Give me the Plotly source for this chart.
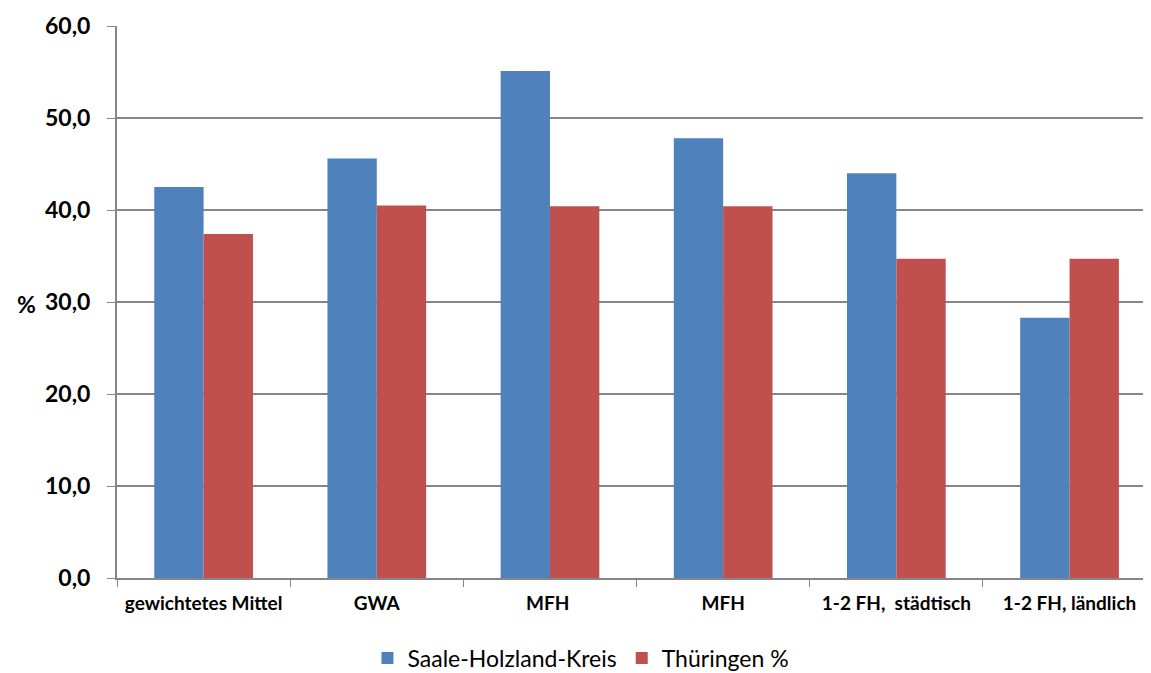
import plotly.graph_objects as go

categories = ["gewichtetes Mittel", "GWA", "MFH ", "MFH", "1-2 FH,  städtisch", "1-2 FH, ländlich"]
saale = [42.5, 45.6, 55.1, 47.8, 44.0, 28.3]
thueringen = [37.4, 40.5, 40.4, 40.4, 34.7, 34.7]
y_ticks = [0, 10, 20, 30, 40, 50, 60]

FONT = "Lato, 'Open Sans', sans-serif"

fig = go.Figure()
fig.add_trace(go.Bar(x=categories, y=saale, name="Saale-Holzland-Kreis",
                     marker=dict(color="#4F81BD", line=dict(width=0))))
fig.add_trace(go.Bar(x=categories, y=thueringen, name="Thüringen %",
                     marker=dict(color="#C0504D", line=dict(width=0))))

# page body has an 8px margin; figure is sized to fit the 1151x673 window
fig.update_layout(
    width=1143, height=665,
    margin=dict(l=109, r=3, t=18, b=95, autoexpand=False),
    paper_bgcolor="white", plot_bgcolor="white",
    barmode="group", bargap=0.43, bargroupgap=0,
    separators=",.",
    font=dict(family=FONT, color="black"),
    showlegend=True,
    legend=dict(orientation="h", x=0.45, xanchor="center", y=-0.145, yanchor="middle",
                font=dict(size=23, family=FONT),
                itemwidth=30, traceorder="normal", tracegroupgap=0),
    xaxis=dict(type="category", range=[-0.5, 5.453],
               showline=True, linecolor="#868686", linewidth=2,
               ticks="outside", tickson="boundaries", ticklen=7, tickcolor="#868686",
               automargin=False, ticklabelstandoff=7,
               tickfont=dict(size=19, family=FONT, weight="bold")),
    yaxis=dict(range=[0, 60], tickvals=y_ticks, tickformat=".1f",
               showgrid=True, gridcolor="#868686", gridwidth=2,
               showline=True, linecolor="#868686", linewidth=2,
               ticks="outside", ticklen=8, tickcolor="#868686",
               automargin=False, ticklabelstandoff=12,
               tickfont=dict(size=23, family=FONT, weight="bold"),
               zeroline=False),
)
fig.add_annotation(text="%", xref="paper", yref="paper", x=-0.088, y=0.497,
                   xanchor="center", yanchor="middle", showarrow=False,
                   font=dict(size=23, family=FONT, weight="bold"))

fig.write_html("out.html")
